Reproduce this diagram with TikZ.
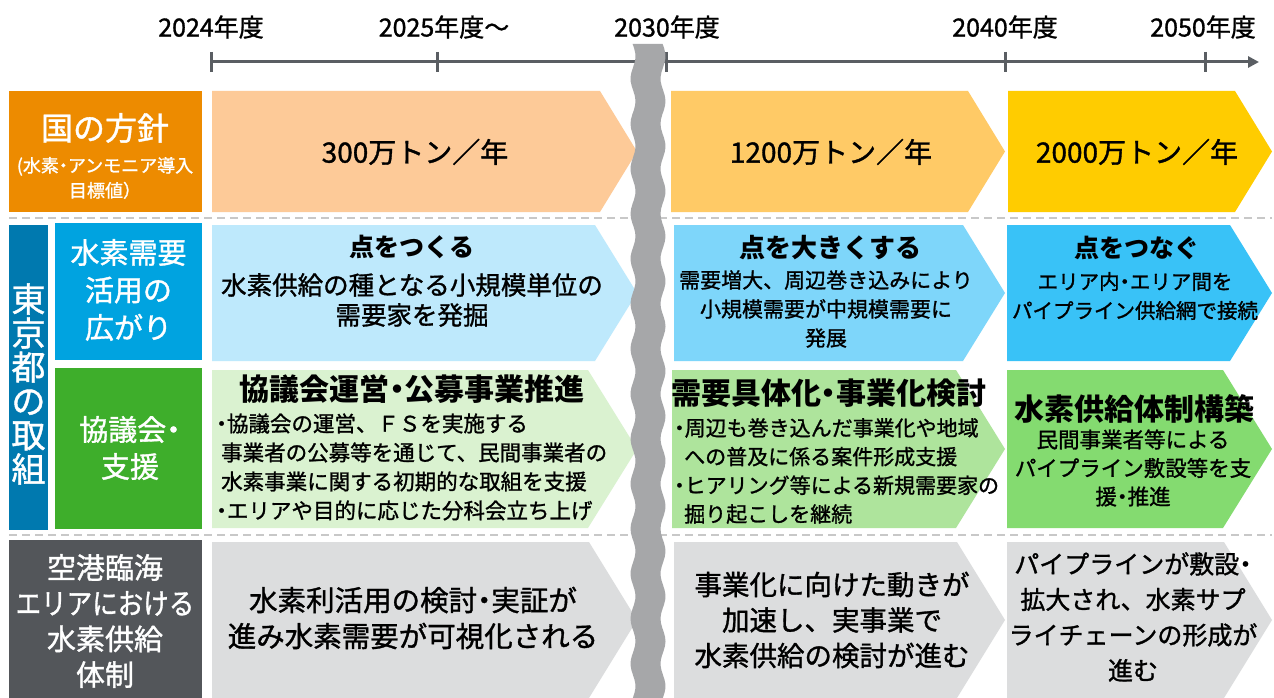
\documentclass[tikz,border=0pt]{standalone}
\usepackage{fontspec}
\setmainfont{Noto Sans CJK JP}[UprightFeatures={FakeBold=1.2}]
\usetikzlibrary{arrows.meta}
\definecolor{cOrange}{HTML}{ED8B00}
\definecolor{cPeach}{HTML}{FDCA98}
\definecolor{cAmber}{HTML}{FFCA66}
\definecolor{cGold}{HTML}{FFCC00}
\definecolor{cNavy}{HTML}{0079AF}
\definecolor{cBlue}{HTML}{00A3E0}
\definecolor{cBlueA}{HTML}{BEE9FC}
\definecolor{cBlueB}{HTML}{7ED6FA}
\definecolor{cBlueC}{HTML}{39C2F7}
\definecolor{cGreen}{HTML}{3EAE2B}
\definecolor{cGreenA}{HTML}{DAF2D0}
\definecolor{cGreenB}{HTML}{AEE49C}
\definecolor{cGreenC}{HTML}{84DB70}
\definecolor{cDark}{HTML}{53565A}
\definecolor{cGrayA}{HTML}{DCDDDE}
\definecolor{cBand}{HTML}{A6A7A9}
\definecolor{cLine}{HTML}{5A5E63}
\definecolor{cSep}{HTML}{C8C8C8}
\newcommand\fs[2]{\fontsize{#1}{#2}\selectfont}
\newcommand\nd{\makebox[0.5em][c]{・}}
\newcommand\hx[2]{\scalebox{#1}[1]{#2}}
\newcommand\chevron[6]{\fill[#1] (#2,#3) -- ({#4-#6},#3) -- (#4,{(#3+#5)/2}) -- ({#4-#6},#5) -- (#2,#5) -- cycle;}
\begin{document}
\begin{tikzpicture}[x=1pt,y=-1pt,
  box/.style={draw=none,inner sep=0pt,minimum width=#1},
  wt/.style={inner sep=0pt,align=center,text=white},
  bt/.style={inner sep=0pt,align=center,text=black},
  bl/.style={inner sep=0pt,align=left,text=black,anchor=west},
  tl/.style={draw=cLine,line width=3pt},
  sep/.style={draw=cSep,line width=1.5pt,dash pattern=on 8pt off 5pt}]
\useasboundingbox (0,0) rectangle (1274,698);
\fill[white] (0,0) rectangle (1274,698);

% timeline
\coordinate (t1) at (211,62);
\coordinate (t2) at (437,62);
\coordinate (t3) at (666,62);
\coordinate (t4) at (1005,62);
\coordinate (t5) at (1205,62);
\coordinate (tend) at (1259,62);
\draw[tl,-{Triangle[length=11pt,width=11pt]}] (t1) -- (tend);
\foreach \t in {t1,t2,t3,t4,t5}{\draw[tl] (\t) ++(0,-10) -- ++(0,20);}
\node[bt,font=\fs{25}{25}] (y1) at (211,27) {2024年度};
\node[bt,font=\fs{25}{25}] (y2) at (444,27) {2025年度～};
\node[bt,font=\fs{25}{25}] (y3) at (667,27) {2030年度};
\node[bt,font=\fs{25}{25}] (y4) at (1005,27) {2040年度};
\node[bt,font=\fs{25}{25}] (y5) at (1203,27) {2050年度};

% separators
\coordinate (s1a) at (9,218); \coordinate (s1b) at (1272,218);
\coordinate (s2a) at (9,535); \coordinate (s2b) at (1272,535);
\draw[sep] (s1a) -- (s1b);
\draw[sep] (s2a) -- (s2b);

% row 1
\node[box=193,minimum height=121,fill=cOrange] (kuni) at (105.5,151.5) {};
\node[wt,font=\fs{32}{32}] (kuniT) at (105,128) {国の方針};
\node[wt,font=\fs{18}{25}] (kuniS) at (105,178) {(水素\nd アンモニア導入\\目標値）};
\chevron{cPeach}{212}{91}{637}{212}{37}
\chevron{cAmber}{671}{91}{1005}{212}{37}
\chevron{cGold}{1008}{91}{1272}{212}{37}
\node[bt,font=\fs{28}{28}] (r1a) at (415,152) {300万トン／年};
\node[bt,font=\fs{28}{28}] (r1b) at (831,152) {1200万トン／年};
\node[bt,font=\fs{28}{28}] (r1c) at (1137,152) {2000万トン／年};

% row 2
\node[box=39,minimum height=305,fill=cNavy] (tokyo) at (28.5,377.5) {};
\node[wt,font=\fs{34}{34}] (tokyoT) at (28.5,384) {東\\京\\都\\の\\取\\組};
\node[box=147,minimum height=137,fill=cBlue] (suiso) at (128.5,291.5) {};
\node[wt,font=\fs{29}{37.5}] (suisoT) at (128.5,290) {水素需要\\活用の\\広がり};
\chevron{cBlueA}{212}{225}{637}{361}{42}
\chevron{cBlueB}{674}{225}{1005}{361}{42}
\chevron{cBlueC}{1007}{225}{1272}{361}{42}
\node[bt,font=\fs{25}{25}\bfseries] (r2aT) at (412,247) {点をつくる};
\node[bt,font=\fs{25.5}{30}] (r2aB) at (412,300) {水素供給の種となる小規模単位の\\需要家を発掘};
\node[bt,font=\fs{26}{26}\bfseries] (r2bT) at (830,248) {点を大きくする};
\node[bt,font=\fs{21}{29}] (r2bB) at (826,309) {需要増大、周辺巻き込みにより\\小規模需要が中規模需要に\\発展};
\node[bt,font=\fs{25}{25}\bfseries] (r2cT) at (1137,248) {点をつなぐ};
\node[bt,font=\fs{20.5}{29}] (r2cB) at (1135,296) {エリア内\nd エリア間を\\パイプライン供給網で接続};

% row 3
\node[box=147,minimum height=161,fill=cGreen] (kyogi) at (128.5,448.5) {};
\node[wt,font=\fs{29}{37}] (kyogiT) at (130,448) {協議会\nd\\支援};
\chevron{cGreenA}{212}{370}{637}{528}{49}
\chevron{cGreenB}{672}{370}{1005}{528}{49}
\chevron{cGreenC}{1007}{370}{1272}{528}{49}
\node[bt,font=\fs{30}{30}\bfseries] (r3aT) at (412,389) {協議会運営\nd 公募事業推進};
\node[bl,font=\fs{21.5}{29}] (r3aB) at (216,467) {\nd 協議会の運営、ＦＳを実施する\\
\hspace*{5pt}事業者の公募等を通じて、民間事業者の\\
\hspace*{5pt}水素事業に関する初期的な取組を支援\\
\nd エリアや目的に応じた分科会立ち上げ};
\node[bl,font=\fs{30}{30}\bfseries] (r3bT) at (671,393) {需要具体化\nd 事業化検討};
\node[bl,font=\fs{21}{28.7}] (r3bB) at (674,471) {\nd 周辺も巻き込んだ事業化や地域\\
\hspace*{10pt}への普及に係る案件形成支援\\
\nd ヒアリング等による新規需要家の\\
\hspace*{10pt}掘り起こしを継続};
\node[bt,font=\fs{30}{30}\bfseries] (r3cT) at (1134,409) {水素供給体制構築};
\node[bt,font=\fs{21.5}{28.5}] (r3cB) at (1133,468) {民間事業者等による\\パイプライン敷設等を支\\援\nd 推進};

% row 4
\node[box=193,minimum height=158,fill=cDark] (kuko) at (105.5,619) {};
\node[wt,font=\fs{29}{35.7}] (kukoT) at (105,621) {空港臨海\\\hx{0.88}{エリアにおける}\\水素供給\\体制};
\chevron{cGrayA}{212}{542}{637}{698}{48}
\chevron{cGrayA}{674}{542}{1005}{698}{48}
\chevron{cGrayA}{1007}{542}{1272}{698}{48}
\node[bt,font=\fs{28.5}{36}] (r4a) at (413,618) {水素利活用の検討\nd 実証が\\進み水素需要が可視化される};
\node[bt,font=\fs{27.5}{35.5}] (r4b) at (832,620) {事業化に向けた動きが\\加速し、実事業で\\水素供給の検討が進む};
\node[bt,font=\fs{25}{35.5}] (r4c) at (1133,617) {パイプラインが敷設\nd\\拡大され、水素サプ\\ライチェーンの形成が\\進む};

% break band
\fill[cBand] plot[domain=44:698,samples=140] ({633+2.5*sin(8*\x)},\x)
  -- plot[domain=698:44,samples=140] ({663+2.5*sin(8*\x)},\x) -- cycle;
\end{tikzpicture}
\end{document}
